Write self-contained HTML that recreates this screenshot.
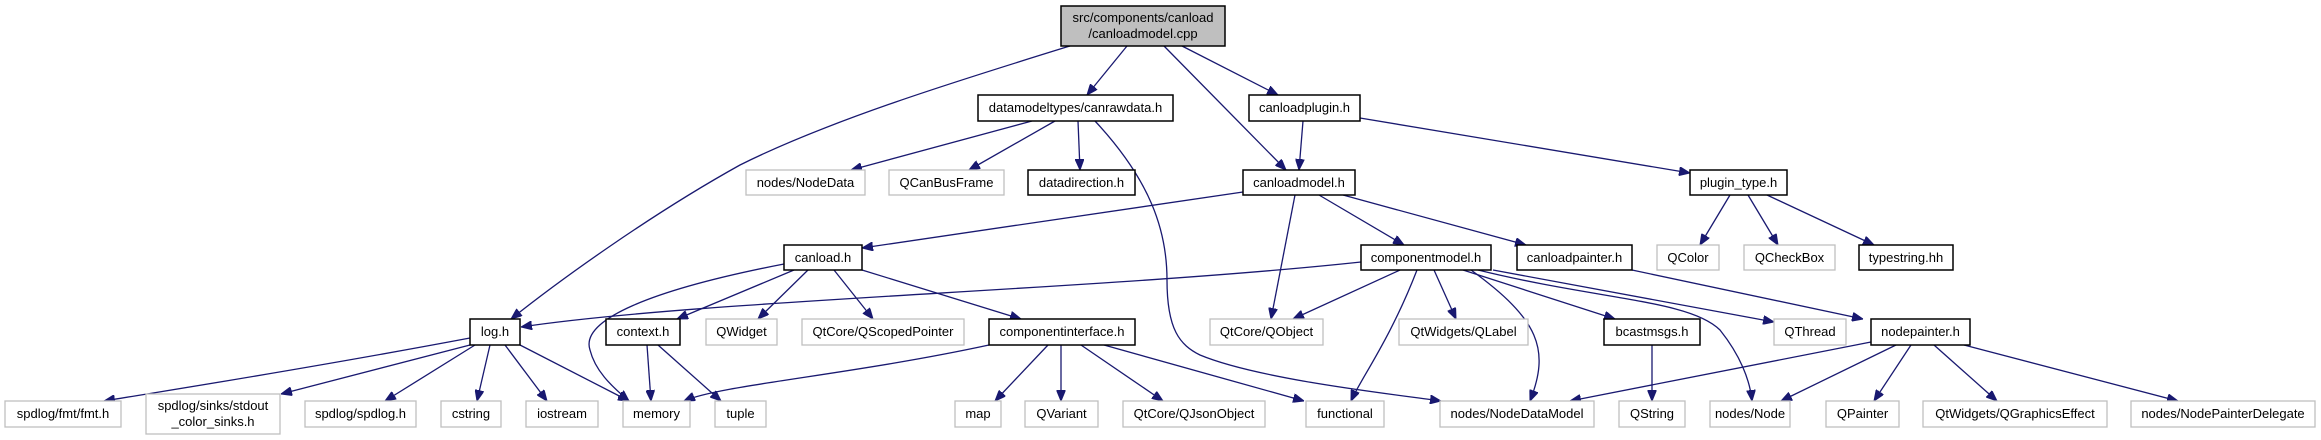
<!DOCTYPE html>
<html><head><meta charset="utf-8"><style>
html,body{margin:0;padding:0;background:#fff;}
svg{display:block;}
text{font-family:"Liberation Sans",Arial,sans-serif;font-size:13px;fill:#000;}
.e{fill:none;stroke:#191970;stroke-width:1.3;marker-end:url(#a);}
.g{fill:#fff;stroke:#bfbfbf;stroke-width:1.3;}
.b{fill:#fff;stroke:#000;stroke-width:1.5;}
</style></head><body>
<svg width="2321" height="440" viewBox="0 0 2321 440" xmlns="http://www.w3.org/2000/svg">
<defs><marker id="a" viewBox="0 0 11 9" refX="11" refY="4.5" markerWidth="11" markerHeight="9" markerUnits="userSpaceOnUse" orient="auto"><path d="M0,0 L11,4.5 L0,9 z" fill="#191970" stroke="#191970"/></marker></defs>

<path class="e" d="M1070,46 C960,80 830,120 740,165 C650,215 560,280 511,319"/>
<path class="e" d="M1127,46 L1087,95"/>
<path class="e" d="M1164,46 L1286,170"/>
<path class="e" d="M1182,46 L1278,95"/>
<path class="e" d="M1032,121 L851,170"/>
<path class="e" d="M1055,121 L969,170"/>
<path class="e" d="M1078,121 L1080,170"/>
<path class="e" d="M1095,121 C1150,180 1167,230 1167,280 C1167,330 1180,345 1200,355 C1260,380 1400,395 1441,401"/>
<path class="e" d="M1303,121 L1299,170"/>
<path class="e" d="M1360,118 L1690,173"/>
<path class="e" d="M1243,192 L862,248"/>
<path class="e" d="M1295,195 L1271,319"/>
<path class="e" d="M1319,195 L1404,245"/>
<path class="e" d="M1343,195 L1526,245"/>
<path class="e" d="M1730,195 L1700,245"/>
<path class="e" d="M1748,195 L1778,245"/>
<path class="e" d="M1767,195 L1874,245"/>
<path class="e" d="M1632,270 L1863,319"/>
<path class="e" d="M784,264 C650,290 580,320 590,350 C595,370 610,385 629,401"/>
<path class="e" d="M794,270 L677,319"/>
<path class="e" d="M808,270 L758,319"/>
<path class="e" d="M834,270 L873,319"/>
<path class="e" d="M862,270 L1021,319"/>
<path class="e" d="M1361,262 C1100,290 700,300 521,327"/>
<path class="e" d="M1400,270 L1293,319"/>
<path class="e" d="M1417,270 C1390,340 1360,380 1351,401"/>
<path class="e" d="M1434,270 L1456,319"/>
<path class="e" d="M1471,270 C1540,320 1550,350 1530,401"/>
<path class="e" d="M1463,270 L1615,319"/>
<path class="e" d="M1478,270 C1600,300 1690,300 1720,330 C1740,355 1750,380 1752,401"/>
<path class="e" d="M1493,270 L1774,322"/>
<path class="e" d="M989,345 C850,375 720,385 684,401"/>
<path class="e" d="M1048,345 L995,401"/>
<path class="e" d="M1061,345 L1061,401"/>
<path class="e" d="M1081,345 L1163,401"/>
<path class="e" d="M1104,345 L1304,401"/>
<path class="e" d="M470,338 C300,370 170,390 104,401"/>
<path class="e" d="M470,345 L281,394"/>
<path class="e" d="M475,345 L385,401"/>
<path class="e" d="M490,345 L477,401"/>
<path class="e" d="M505,345 L547,401"/>
<path class="e" d="M520,345 L629,401"/>
<path class="e" d="M647,345 L651,401"/>
<path class="e" d="M658,345 L721,401"/>
<path class="e" d="M1652,345 L1652,401"/>
<path class="e" d="M1871,342 L1570,401"/>
<path class="e" d="M1896,345 L1781,401"/>
<path class="e" d="M1911,345 L1874,401"/>
<path class="e" d="M1934,345 L1997,401"/>
<path class="e" d="M1964,345 L2178,401"/>

<rect x="1061" y="6" width="164" height="40" fill="#bfbfbf" stroke="#000" stroke-width="1.5"/>
<text x="1143" y="22" text-anchor="middle">src/components/canload</text>
<text x="1143" y="38" text-anchor="middle">/canloadmodel.cpp</text>

<g>
<rect class="b" x="978" y="95" width="195" height="26"/><text x="1075.5" y="112" text-anchor="middle">datamodeltypes/canrawdata.h</text>
<rect class="b" x="1249" y="95" width="111" height="26"/><text x="1304.5" y="112" text-anchor="middle">canloadplugin.h</text>
<rect class="b" x="1028" y="170" width="107" height="25"/><text x="1081.5" y="187" text-anchor="middle">datadirection.h</text>
<rect class="b" x="1243" y="170" width="112" height="25"/><text x="1299" y="187" text-anchor="middle">canloadmodel.h</text>
<rect class="b" x="1690" y="170" width="97" height="25"/><text x="1738.5" y="187" text-anchor="middle">plugin_type.h</text>
<rect class="b" x="784" y="245" width="78" height="25"/><text x="823" y="262" text-anchor="middle">canload.h</text>
<rect class="b" x="1361" y="245" width="130" height="25"/><text x="1426" y="262" text-anchor="middle">componentmodel.h</text>
<rect class="b" x="1517" y="245" width="115" height="25"/><text x="1574.5" y="262" text-anchor="middle">canloadpainter.h</text>
<rect class="b" x="1859" y="245" width="94" height="25"/><text x="1906" y="262" text-anchor="middle">typestring.hh</text>
<rect class="b" x="470" y="319" width="50" height="26"/><text x="495" y="336" text-anchor="middle">log.h</text>
<rect class="b" x="606" y="319" width="74" height="26"/><text x="643" y="336" text-anchor="middle">context.h</text>
<rect class="b" x="989" y="319" width="146" height="26"/><text x="1062" y="336" text-anchor="middle">componentinterface.h</text>
<rect class="b" x="1604" y="319" width="96" height="26"/><text x="1652" y="336" text-anchor="middle">bcastmsgs.h</text>
<rect class="b" x="1871" y="319" width="99" height="26"/><text x="1920.5" y="336" text-anchor="middle">nodepainter.h</text>
</g>

<g>
<rect class="g" x="746" y="170" width="119" height="25"/><text x="805.5" y="187" text-anchor="middle">nodes/NodeData</text>
<rect class="g" x="889" y="170" width="115" height="25"/><text x="946.5" y="187" text-anchor="middle">QCanBusFrame</text>
<rect class="g" x="1657" y="245" width="62" height="25"/><text x="1688" y="262" text-anchor="middle">QColor</text>
<rect class="g" x="1744" y="245" width="91" height="25"/><text x="1789.5" y="262" text-anchor="middle">QCheckBox</text>
<rect class="g" x="706" y="319" width="71" height="26"/><text x="741.5" y="336" text-anchor="middle">QWidget</text>
<rect class="g" x="802" y="319" width="162" height="26"/><text x="883" y="336" text-anchor="middle">QtCore/QScopedPointer</text>
<rect class="g" x="1210" y="319" width="113" height="26"/><text x="1266.5" y="336" text-anchor="middle">QtCore/QObject</text>
<rect class="g" x="1399" y="319" width="129" height="26"/><text x="1463.5" y="336" text-anchor="middle">QtWidgets/QLabel</text>
<rect class="g" x="1774" y="319" width="72" height="26"/><text x="1810" y="336" text-anchor="middle">QThread</text>

<rect class="g" x="5" y="401" width="116" height="26"/><text x="63" y="418" text-anchor="middle">spdlog/fmt/fmt.h</text>
<rect class="g" x="146" y="394" width="134" height="40"/><text x="213" y="410" text-anchor="middle">spdlog/sinks/stdout</text><text x="213" y="426" text-anchor="middle">_color_sinks.h</text>
<rect class="g" x="305" y="401" width="111" height="26"/><text x="360.5" y="418" text-anchor="middle">spdlog/spdlog.h</text>
<rect class="g" x="441" y="401" width="60" height="26"/><text x="471" y="418" text-anchor="middle">cstring</text>
<rect class="g" x="526" y="401" width="72" height="26"/><text x="562" y="418" text-anchor="middle">iostream</text>
<rect class="g" x="623" y="401" width="67" height="26"/><text x="656.5" y="418" text-anchor="middle">memory</text>
<rect class="g" x="715" y="401" width="51" height="26"/><text x="740.5" y="418" text-anchor="middle">tuple</text>
<rect class="g" x="955" y="401" width="46" height="26"/><text x="978" y="418" text-anchor="middle">map</text>
<rect class="g" x="1025" y="401" width="73" height="26"/><text x="1061.5" y="418" text-anchor="middle">QVariant</text>
<rect class="g" x="1123" y="401" width="142" height="26"/><text x="1194" y="418" text-anchor="middle">QtCore/QJsonObject</text>
<rect class="g" x="1306" y="401" width="78" height="26"/><text x="1345" y="418" text-anchor="middle">functional</text>
<rect class="g" x="1440" y="401" width="154" height="26"/><text x="1517" y="418" text-anchor="middle">nodes/NodeDataModel</text>
<rect class="g" x="1619" y="401" width="66" height="26"/><text x="1652" y="418" text-anchor="middle">QString</text>
<rect class="g" x="1710" y="401" width="80" height="26"/><text x="1750" y="418" text-anchor="middle">nodes/Node</text>
<rect class="g" x="1826" y="401" width="73" height="26"/><text x="1862.5" y="418" text-anchor="middle">QPainter</text>
<rect class="g" x="1923" y="401" width="184" height="26"/><text x="2015" y="418" text-anchor="middle">QtWidgets/QGraphicsEffect</text>
<rect class="g" x="2131" y="401" width="184" height="26"/><text x="2223" y="418" text-anchor="middle">nodes/NodePainterDelegate</text>
</g>
</svg>
</body></html>
